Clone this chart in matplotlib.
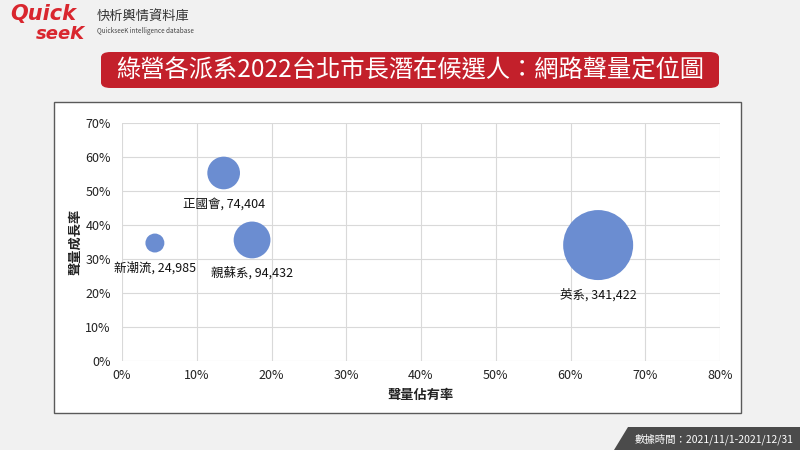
import matplotlib
matplotlib.use("Agg")
import matplotlib.pyplot as plt
from matplotlib.patches import Rectangle, FancyBboxPatch, Polygon
import numpy as np

plt.rcParams['font.family'] = ['Noto Sans CJK TC', 'DejaVu Sans']

names = ['新潮流', '正國會', '親蘇系', '英系']
share = [4.4, 13.6, 17.4, 63.7]       # 聲量佔有率 (%)
growth = [34.7, 55.3, 35.6, 34.1]     # 聲量成長率 (%)
volume = [24985, 74404, 94432, 341422]

xticks = [0, 10, 20, 30, 40, 50, 60, 70, 80]
yticks = [0, 10, 20, 30, 40, 50, 60, 70]

W, H = 800, 450
fig = plt.figure(figsize=(8, 4.5), dpi=100)
fig.patch.set_facecolor('#f1f1f1')

def fx(px): return px / W
def fy(py): return 1 - py / H

# white chart box
fig.patches.append(Rectangle((fx(54), fy(413)), fx(741) - fx(54), fy(102) - fy(413),
                             transform=fig.transFigure, facecolor='white',
                             edgecolor='#5a5a5a', lw=1.0, zorder=-10))

# title banner
fig.patches.append(FancyBboxPatch((fx(101), fy(88)), fx(719) - fx(101), fy(52) - fy(88),
                                  boxstyle='round,pad=0,rounding_size=0.012',
                                  transform=fig.transFigure, facecolor='#c3202b',
                                  edgecolor='none', zorder=1))
fig.text(fx(410), fy(70), '綠營各派系2022台北市長潛在候選人：網路聲量定位圖',
         color='white', fontsize=17.5, ha='center', va='center', zorder=2)

# logo
fig.text(fx(10), fy(14), 'Quick', color='#d9262e', fontsize=15, fontweight='bold',
         style='italic', ha='left', va='center', family='DejaVu Sans')
fig.text(fx(36), fy(34), 'seeK', color='#d9262e', fontsize=13, fontweight='bold',
         style='italic', ha='left', va='center', family='DejaVu Sans')
fig.text(fx(97), fy(17), '快析輿情資料庫', color='#333333', fontsize=9.5,
         ha='left', va='center')
fig.text(fx(97), fy(31), 'QuickseeK intelligence database', color='#444444',
         fontsize=4.6, ha='left', va='center')

# bottom-right date tag
fig.patches.append(Polygon([[fx(628), fy(427)], [fx(800), fy(427)], [fx(800), fy(450)],
                            [fx(614), fy(450)]], closed=True, transform=fig.transFigure,
                           facecolor='#4b4b4b', edgecolor='none'))
fig.text(fx(714), fy(439), '數據時間：2021/11/1-2021/12/31', color='white',
         fontsize=7.5, ha='center', va='center')

# plot area
ax = fig.add_axes([fx(122), fy(361), fx(720) - fx(122), fy(123) - fy(361)])
ax.set_facecolor('white')
ax.set_xlim(0, 80)
ax.set_ylim(0, 70)
ax.set_xticks(xticks)
ax.set_yticks(yticks)
ax.set_xticklabels([f'{t}%' for t in xticks])
ax.set_yticklabels([f'{t}%' for t in yticks])
ax.grid(True, color='#d9d9d9', lw=0.8)
ax.set_axisbelow(True)
for s in ax.spines.values():
    s.set_visible(False)
ax.tick_params(length=0, labelsize=9, colors='#222222', pad=6)
ax.tick_params(axis='y', pad=8)

vmax = max(volume)
rmax_px = 35.0
r_px = [rmax_px * np.sqrt(v / vmax) for v in volume]
sizes = [(2 * r * 0.72) ** 2 for r in r_px]
ax.scatter(share, growth, s=sizes, color='#6b8dd1', edgecolor='none', zorder=3,
           clip_on=False)

for n, x, y, v, r in zip(names, share, growth, volume, r_px):
    ax.annotate(f'{n}, {v:,}', (x, y), xytext=(0, -(r + 15) * 0.72),
                textcoords='offset points', ha='center', va='center',
                fontsize=9, color='#111111', zorder=4)

ax.set_xlabel('聲量佔有率', fontsize=9.5, fontweight='bold', color='#222222', labelpad=4)
ax.set_ylabel('聲量成長率', fontsize=9.5, fontweight='bold', color='#222222', labelpad=2)

fig.savefig('out.png', dpi=100, facecolor=fig.get_facecolor())
